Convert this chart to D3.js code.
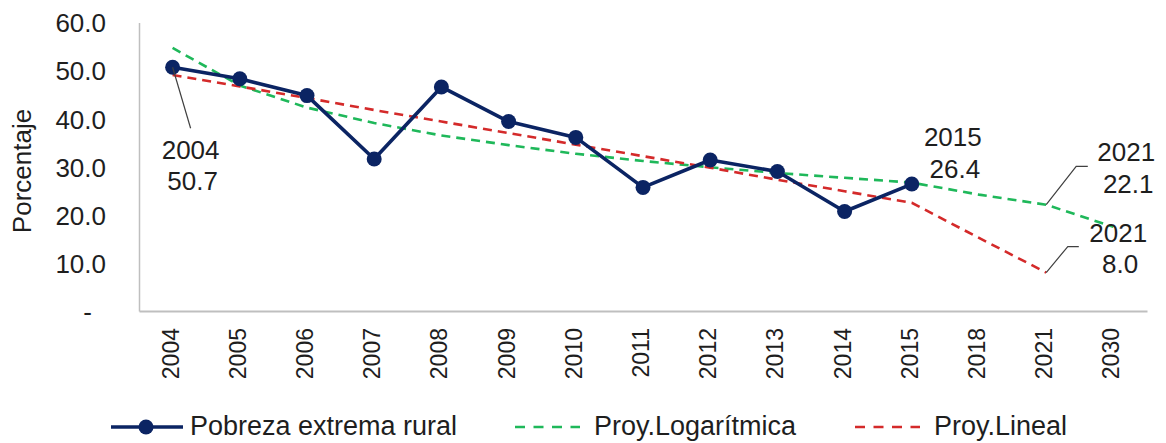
<!DOCTYPE html>
<html>
<head>
<meta charset="utf-8">
<script src="https://cdn.jsdelivr.net/npm/d3@7"></script>
<style>
  html, body { margin: 0; padding: 0; background: #fff; }
  svg { display: block; font-family: Arial, "Liberation Sans", sans-serif; }
</style>
</head>
<body>
<div id="chart"></div>
<script>
// data
const years = ['2004', '2005', '2006', '2007', '2008', '2009', '2010', '2011', '2012', '2013', '2014', '2015', '2018', '2021', '2030'];
const pobreza = [50.7, 48.3, 44.8, 31.6, 46.6, 39.4, 36.1, 25.7, 31.4, 29.0, 20.7, 26.4];
const proyLog = [54.7, 46.9, 42.3, 39.1, 36.5, 34.5, 32.7, 31.2, 29.9, 28.7, 27.7, 26.7, 24.2, 22.1, 17.5];
const proyLin = [49.1, 46.7, 44.3, 41.8, 39.4, 37.0, 34.6, 32.2, 29.8, 27.3, 24.9, 22.5, 15.2, 8.0, null];
const yTicks = [0, 10, 20, 30, 40, 50, 60];
const seriesNames = ['Pobreza extrema rural', 'Proy.Logarítmica', 'Proy.Lineal'];

const W = 1166, H = 443;
const navy = '#0b2463', green = '#1fb85a', red = '#d42a2a', textCol = '#1e1e1e', axisCol = '#bfbfbf';

const svg = d3.select('#chart').append('svg')
  .attr('width', W).attr('height', H);

const x = d3.scaleBand().domain(years).range([139, 1147]).padding(0);
const y = d3.scaleLinear().domain([0, 60]).range([311, 22.5]);
const cx = d => x(d) + x.bandwidth() / 2;

// y axis
const yAxis = svg.append('g')
  .attr('transform', 'translate(139,0)')
  .call(d3.axisLeft(y).tickValues(yTicks).tickSize(0).tickSizeOuter(0).tickPadding(33)
    .tickFormat(d => d === 0 ? '-' : d3.format('.1f')(d)));
yAxis.select('.domain').attr('stroke', axisCol).attr('stroke-width', 1.5);
yAxis.selectAll('text')
  .style('font-size', '26px').attr('fill', textCol).attr('dy', '0.36em')
  .attr('dx', d => d === 0 ? -14 : 0);

// x axis
const xAxis = svg.append('g')
  .attr('transform', 'translate(0,311)')
  .call(d3.axisBottom(x).tickSize(0).tickSizeOuter(0));
xAxis.select('.domain').attr('stroke', axisCol).attr('stroke-width', 2);
xAxis.selectAll('text')
  .style('font-size', '23px').attr('fill', textCol)
  .attr('text-anchor', 'end')
  .attr('transform', 'translate(-2,17) rotate(-90)')
  .attr('x', 0).attr('y', 0).attr('dy', '0.35em');

// axis title
svg.append('text')
  .attr('transform', 'translate(31,171) rotate(-90)')
  .attr('text-anchor', 'middle')
  .style('font-size', '26px').attr('fill', textCol)
  .text('Porcentaje');

// trend lines
const trendLine = vals => d3.line()
  .defined((d, i) => vals[i] != null)
  .x((d, i) => cx(years[i]))
  .y((d, i) => y(vals[i]));

svg.append('path')
  .datum(proyLog)
  .attr('d', trendLine(proyLog))
  .attr('fill', 'none').attr('stroke', green).attr('stroke-width', 2.6)
  .attr('stroke-dasharray', '9,6');

svg.append('path')
  .datum(proyLin)
  .attr('d', trendLine(proyLin))
  .attr('fill', 'none').attr('stroke', red).attr('stroke-width', 2.6)
  .attr('stroke-dasharray', '9,6');

// observed series
const obsLine = d3.line()
  .x((d, i) => cx(years[i]))
  .y(d => y(d));

svg.append('path')
  .datum(pobreza)
  .attr('d', obsLine)
  .attr('fill', 'none').attr('stroke', navy).attr('stroke-width', 3.6)
  .attr('stroke-linejoin', 'round');

svg.selectAll('circle.pt')
  .data(pobreza)
  .enter()
  .append('circle')
  .attr('class', 'pt')
  .attr('cx', (d, i) => cx(years[i]))
  .attr('cy', d => y(d))
  .attr('r', 7.5)
  .attr('fill', navy);

// data labels (year / value), with leader lines
const labels = [
  { i: 0, vals: pobreza, tx: 18, ty: 91.5, leader: [[18, 61]] },
  { i: 11, vals: pobreza, tx: 41, ty: -37.6, leader: null },
  { i: 13, vals: proyLog, tx: 80, ty: -43.3, leader: [[30, -38.3], [41.6, -38.3]] },
  { i: 13, vals: proyLin, tx: 72, ty: -30.6, leader: [[21.6, -26], [32.6, -26]] }
];

labels.forEach(l => {
  const px = cx(years[l.i]);
  const py = y(l.vals[l.i]);
  if (l.leader) {
    const pts = [[px, py]].concat(l.leader.map(p => [px + p[0], py + p[1]]));
    svg.append('path')
      .attr('d', d3.line()(pts))
      .attr('fill', 'none').attr('stroke', '#404040').attr('stroke-width', 1.2);
  }
  const t = svg.append('text')
    .attr('text-anchor', 'middle')
    .style('font-size', '26px').attr('fill', textCol);
  t.append('tspan').attr('x', px + l.tx).attr('y', py + l.ty).text(years[l.i]);
  t.append('tspan').attr('x', px + l.tx + 2).attr('y', py + l.ty + 31.5)
    .text(d3.format('.1f')(l.vals[l.i]));
});

// legend
const legend = svg.append('g').attr('transform', 'translate(0,427)');

legend.append('line')
  .attr('x1', 111).attr('x2', 183).attr('y1', 0).attr('y2', 0)
  .attr('stroke', navy).attr('stroke-width', 3.6);
legend.append('circle').attr('cx', 146).attr('cy', 0).attr('r', 7.5).attr('fill', navy);

legend.append('line')
  .attr('x1', 515).attr('x2', 580).attr('y1', 0).attr('y2', 0)
  .attr('stroke', green).attr('stroke-width', 2.6).attr('stroke-dasharray', '10,8.5');

legend.append('line')
  .attr('x1', 855).attr('x2', 920).attr('y1', 0).attr('y2', 0)
  .attr('stroke', red).attr('stroke-width', 2.6).attr('stroke-dasharray', '10,8.5');

legend.selectAll('text.leg')
  .data(seriesNames)
  .enter()
  .append('text')
  .attr('class', 'leg')
  .attr('x', (d, i) => [190, 594, 934][i])
  .attr('y', 8)
  .style('font-size', '27px').attr('fill', textCol)
  .text(d => d);
</script>
</body>
</html>
